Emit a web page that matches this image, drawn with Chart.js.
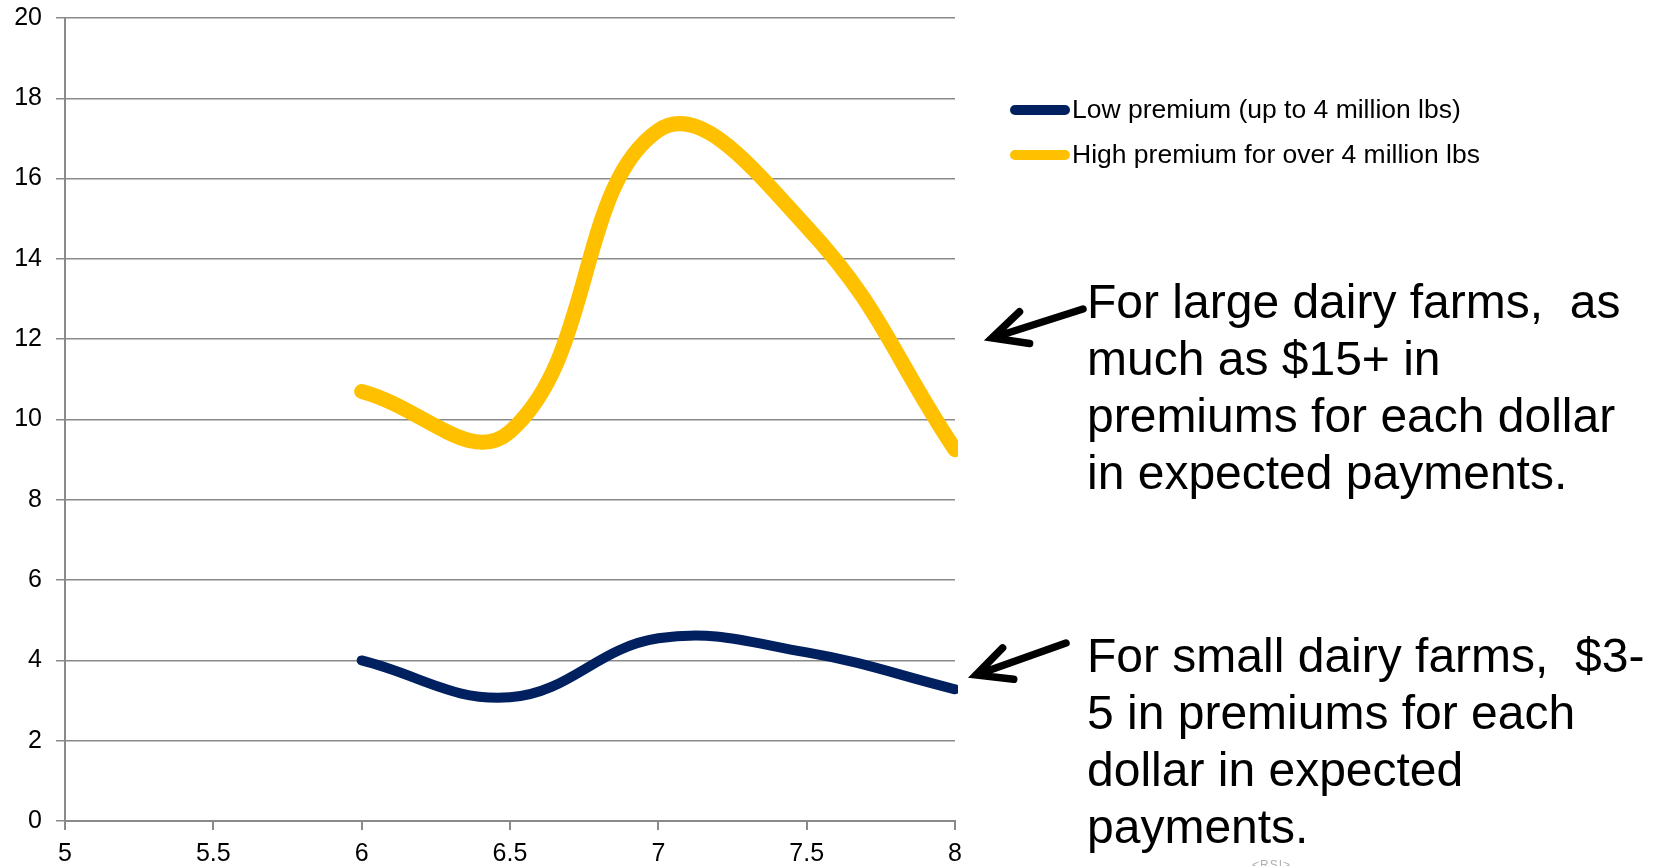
<!DOCTYPE html>
<html>
<head>
<meta charset="utf-8">
<script src="https://cdn.jsdelivr.net/npm/chart.js@4/dist/chart.umd.min.js"></script>
<style>
  html, body { margin: 0; padding: 0; background: #fff; }
  #wrap { position: relative; width: 1653px; height: 866px; overflow: hidden; }
  #c { position: absolute; left: 0; top: 0; }
  .note {
    position: absolute; left: 1087px;
    font-family: "Liberation Sans", Arial, sans-serif;
    font-size: 48px; line-height: 57px; color: #000;
    white-space: pre;
  }
  .mark {
    position: absolute; left: 1252px; top: 858px;
    font-family: "Liberation Sans", Arial, sans-serif;
    font-size: 12px; color: #b0b0b0; letter-spacing: 1px;
  }
</style>
</head>
<body>
<div id="wrap">
  <canvas id="c" width="1653" height="866"></canvas>
  <div class="note" style="top:273px">For large dairy farms,  as
much as $15+ in
premiums for each dollar
in expected payments.</div>
  <div class="note" style="top:627px">For small dairy farms,  $3-
5 in premiums for each
dollar in expected
payments.</div>
  <div class="mark">&lt;RSI&gt;</div>
</div>
<script>
// Margin price level (x) and premium paid per dollar of expected payment (y)
const marginLevels = [6, 6.5, 7, 7.5, 8];
const lowPremium  = [4.0, 3.08, 4.55, 4.2, 3.28];
const highPremium = [10.7, 9.7, 17.2, 14.8, 9.25];
const seriesNames = ['Low premium (up to 4 million lbs)', 'High premium for over 4 million lbs'];
const seriesColors = ['#002060', '#FFC000'];
const xTickValues = [5, 5.5, 6, 6.5, 7, 7.5, 8];
const yTickValues = [0, 2, 4, 6, 8, 10, 12, 14, 16, 18, 20];

const FONT = '"Liberation Sans", Arial, sans-serif';
const GRID = '#8a8a8a';

function toPoints(xs, ys) {
  return xs.map((x, i) => ({ x: x, y: ys[i] }));
}

function drawArrow(ctx, tail, tip) {
  const ang = Math.atan2(tail[1] - tip[1], tail[0] - tip[0]);
  const len = 38, spread = 26 * Math.PI / 180;
  ctx.beginPath();
  ctx.moveTo(tail[0], tail[1]);
  ctx.lineTo(tip[0], tip[1]);
  ctx.moveTo(tip[0] + len * Math.cos(ang - spread), tip[1] + len * Math.sin(ang - spread));
  ctx.lineTo(tip[0], tip[1]);
  ctx.lineTo(tip[0] + len * Math.cos(ang + spread), tip[1] + len * Math.sin(ang + spread));
  ctx.stroke();
}

// Key on the right of the plot, plus the two pointer arrows for the notes
const sideKey = {
  id: 'sideKey',
  afterDraw(chart) {
    const ctx = chart.ctx;
    ctx.save();
    chart.data.datasets.forEach((ds, i) => {
      const y = 110 + i * 45;
      ctx.strokeStyle = ds.borderColor;
      ctx.lineWidth = 10;
      ctx.lineCap = 'round';
      ctx.beginPath();
      ctx.moveTo(1015, y);
      ctx.lineTo(1065, y);
      ctx.stroke();
      ctx.fillStyle = '#000';
      ctx.font = '26.5px ' + FONT;
      ctx.textBaseline = 'middle';
      ctx.textAlign = 'left';
      ctx.fillText(ds.label, 1072, y + 1);
    });
    ctx.strokeStyle = '#000';
    ctx.lineWidth = 7.5;
    ctx.lineCap = 'round';
    ctx.lineJoin = 'miter';
    drawArrow(ctx, [1083, 309], [992, 338]);
    drawArrow(ctx, [1066, 643], [976, 675]);
    ctx.restore();
  }
};

new Chart(document.getElementById('c'), {
  type: 'scatter',
  data: {
    datasets: [
      {
        label: seriesNames[0],
        data: toPoints(marginLevels, lowPremium),
        borderColor: seriesColors[0],
        backgroundColor: seriesColors[0],
        borderWidth: 10,
        showLine: true,
        tension: 0.4,
        pointRadius: 0,
        borderCapStyle: 'round',
        clip: 3
      },
      {
        label: seriesNames[1],
        data: toPoints(marginLevels, highPremium),
        borderColor: seriesColors[1],
        backgroundColor: seriesColors[1],
        borderWidth: 15,
        showLine: true,
        tension: 0.42,
        pointRadius: 0,
        borderCapStyle: 'round',
        clip: 3
      }
    ]
  },
  options: {
    responsive: false,
    animation: false,
    devicePixelRatio: 1,
    layout: { padding: { left: 0, right: 698, top: 18, bottom: 0 } },
    plugins: { legend: { display: false }, tooltip: { enabled: false } },
    scales: {
      x: {
        type: 'linear',
        min: 5, max: 8,
        afterBuildTicks: s => { s.ticks = xTickValues.map(v => ({ value: v })); },
        afterFit: s => { s.height = 45; s.paddingLeft = 0; s.paddingRight = 0; },
        grid: { drawOnChartArea: false, drawTicks: true, tickLength: 9, color: GRID, lineWidth: 2 },
        border: { color: GRID, width: 2 },
        ticks: { color: '#000', font: { family: FONT, size: 25 }, padding: 9, maxRotation: 0, autoSkip: false,
                 callback: v => String(v) }
      },
      y: {
        min: 0, max: 20,
        afterBuildTicks: s => { s.ticks = yTickValues.map(v => ({ value: v })); },
        afterFit: s => { s.width = 65; s.paddingTop = 0; s.paddingBottom = 0; },
        grid: { color: GRID, lineWidth: 1.5, tickLength: 9 },
        border: { color: GRID, width: 2 },
        ticks: { color: '#000', font: { family: FONT, size: 25 }, padding: 14,
                 callback: v => String(v) }
      }
    }
  },
  plugins: [sideKey]
});
</script>
</body>
</html>
